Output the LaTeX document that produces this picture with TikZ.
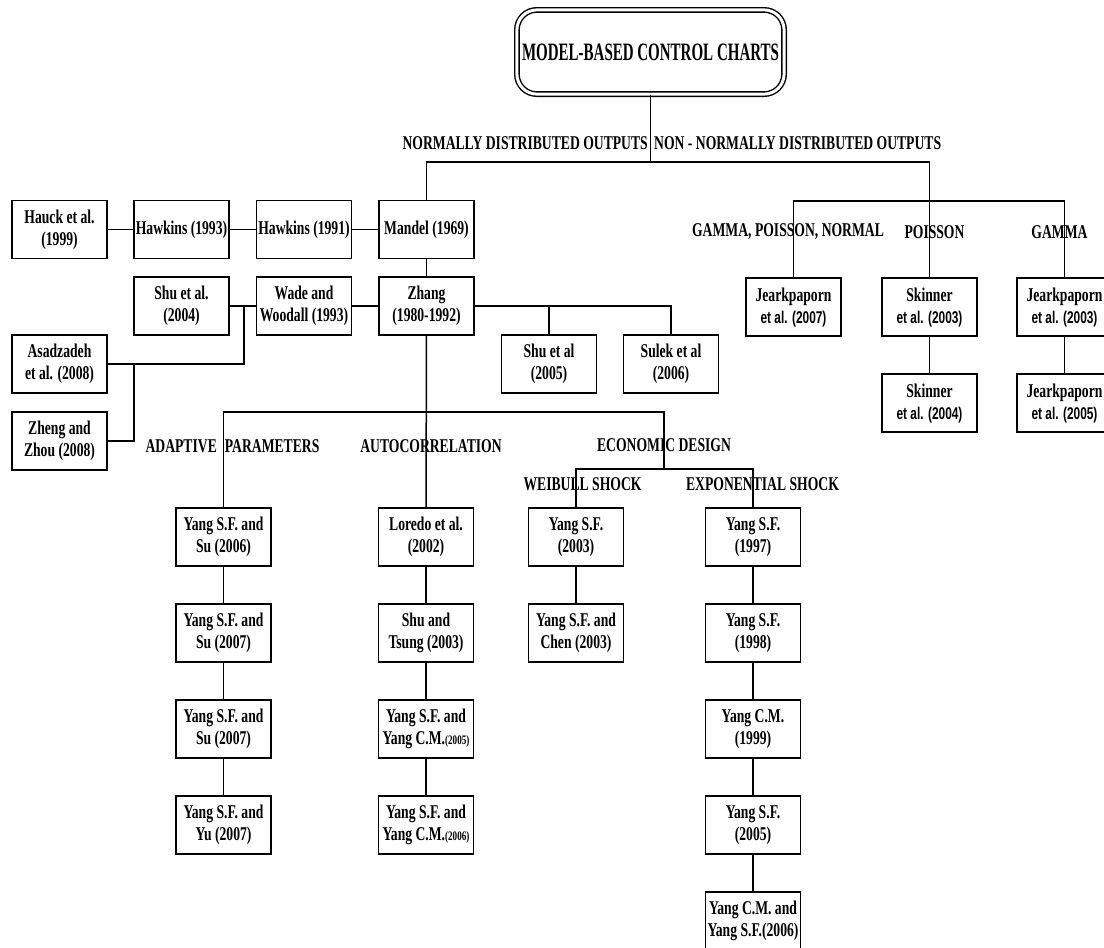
\documentclass[tikz,border=0pt]{standalone}
\usepackage{fontspec}
\newfontfamily\mfont{Liberation Serif}[FakeStretch=0.70]
\newfontfamily\tfont{Liberation Serif}[FakeStretch=0.60]
\newfontfamily\asfont{Liberation Sans}[FakeStretch=0.70]
\newcommand{\etal}[1]{{\asfont\bfseries\fontsize{17}{20}\selectfont #1}}
\newcommand{\smallyr}[1]{{\fontsize{13}{14}\selectfont #1}}
\tikzset{
  ln/.style={line width=1.5pt},
  tk/.style={line width=2.1pt},
  box/.style={draw, line width=1.5pt, minimum width=95pt, minimum height=58pt,
    inner sep=1pt, align=center, font=\mfont\bfseries\fontsize{19.5}{22}\selectfont},
  lbl/.style={inner sep=0pt, font=\mfont\bfseries\fontsize{19.5}{22}\selectfont},
  titlebox/.style={draw, double, double distance=3pt, line width=1.4pt,
    rounded corners=20pt, minimum width=267.2pt, minimum height=84.2pt,
    font=\tfont\bfseries\fontsize{25}{28}\selectfont}
}
\begin{document}
\begin{tikzpicture}[x=1pt,y=-1pt]
\useasboundingbox (0,0) rectangle (1104,948);
\clip (0,0) rectangle (1104,948);
% title
\node[titlebox] (title) at (650.5,52) {MODEL-BASED CONTROL CHARTS};
% bus coordinates
\coordinate (busA) at (0,162);
\coordinate (busB) at (0,201);
\coordinate (busC) at (0,412);
\coordinate (jw) at (244,306);
\coordinate (jz) at (134,364);
\coordinate (ecoJ) at (664,469);
% row 1
\node[box] (hauck) at (59.5,229.5) {Hauck et al.\\(1999)};
\node[box] (hawk93) at (181.5,229.5) {Hawkins (1993)};
\node[box] (hawk91) at (304,229.5) {Hawkins (1991)};
\node[box] (mandel) at (426.5,229.5) {Mandel (1969)};
% row 2
\node[box] (shu04) at (181.5,306) {Shu et al.\\(2004)};
\node[box] (wade) at (304,306) {Wade and\\Woodall (1993)};
\node[box] (zhang) at (426.5,306) {Zhang\\(1980-1992)};
\node[box] (asad) at (59.5,364) {Asadzadeh\\et al. (2008)};
\node[box] (zheng) at (59.5,441) {Zheng and\\Zhou (2008)};
\node[box] (shu05) at (549,364) {Shu et al\\(2005)};
\node[box] (sulek) at (671,364) {Sulek et al\\(2006)};
% right side
\node[box] (j07) at (793.5,307) {Jearkpaporn\\\etal{et al. (2007)}};
\node[box] (sk03) at (929.5,307) {Skinner\\\etal{et al. (2003)}};
\node[box] (j03) at (1064.5,307) {Jearkpaporn\\\etal{et al. (2003)}};
\node[box] (sk04) at (929.5,403) {Skinner\\\etal{et al. (2004)}};
\node[box] (j05) at (1064.5,403) {Jearkpaporn\\\etal{et al. (2005)}};
% adaptive column
\node[box] (a1) at (223.5,537) {Yang S.F. and\\Su (2006)};
\node[box] (a2) at (223.5,633) {Yang S.F. and\\Su (2007)};
\node[box] (a3) at (223.5,729) {Yang S.F. and\\Su (2007)};
\node[box] (a4) at (223.5,825) {Yang S.F. and\\Yu (2007)};
% autocorrelation column
\node[box] (c1) at (426,537) {Loredo et al.\\(2002)};
\node[box] (c2) at (426,633) {Shu and\\Tsung (2003)};
\node[box] (c3) at (426,729) {Yang S.F. and\\Yang C.M.\smallyr{(2005)}};
\node[box] (c4) at (426,825) {Yang S.F. and\\Yang C.M.\smallyr{(2006)}};
% weibull column
\node[box] (w1) at (576,537) {Yang S.F.\\(2003)};
\node[box] (w2) at (576,633) {Yang S.F. and\\Chen (2003)};
% exponential column
\node[box] (e1) at (753,537) {Yang S.F.\\(1997)};
\node[box] (e2) at (753,633) {Yang S.F.\\(1998)};
\node[box] (e3) at (753,729) {Yang C.M.\\(1999)};
\node[box] (e4) at (753,825) {Yang S.F.\\(2005)};
\node[box] (e5) at (753,921) {Yang C.M. and\\Yang S.F.(2006)};
% connectors: top
\draw[ln] (title.south) -- (title.south |- busA) -| (mandel.north);
\draw[ln] (title.south |- busA) -| (sk03.north);
\draw[ln] (j07.north) -- (j07.north |- busB) -- (j03.north |- busB) -- (j03.north);
\draw[ln] (sk03) -- (sk04);
\draw[ln] (j03) -- (j05);
% left rows
\draw[ln] (hauck) -- (hawk93);
\draw[ln] (hawk93) -- (hawk91);
\draw[ln] (hawk91) -- (mandel);
\draw[ln] (mandel) -- (zhang);
\draw[ln] (wade) -- (zhang);
\draw[ln] (shu04) -- (wade);
\draw[tk] (jw) |- (asad.east);
\draw[tk] (jz) |- (zheng.east);
\draw[tk] (zhang.east) -- (shu05.north |- zhang.east);
\draw[ln] (shu05.north |- zhang.east) -- (shu05.north);
\draw[ln] (shu05.north |- zhang.east) -| (sulek.north);
% main lower bus
\draw[ln] (zhang) -- (c1);
\draw[ln] (a1.north) |- (ecoJ |- busC) -- (ecoJ);
\draw[ln] (w1.north) |- (ecoJ) -| (e1.north);
% columns
\draw[ln] (a1) -- (a2) -- (a3) -- (a4);
\draw[ln] (c1) -- (c2) -- (c3) -- (c4);
\draw[ln] (w1) -- (w2);
\draw[ln] (e1) -- (e2) -- (e3) -- (e4) -- (e5);
% labels
\node[lbl, anchor=east] (lnorm) at (648,143) {NORMALLY DISTRIBUTED OUTPUTS};
\node[lbl, anchor=west] (lnon) at (654,143) {NON - NORMALLY DISTRIBUTED OUTPUTS};
\node[lbl] (lgpn) at (788,232) {GAMMA, POISSON, NORMAL};
\node[lbl] (lpois) at (934.5,232) {POISSON};
\node[lbl] (lgam) at (1059.5,232) {GAMMA};
\node[lbl] (ladapt) at (232.5,446) {ADAPTIVE\hspace{8pt}PARAMETERS};
\node[lbl] (lauto) at (431,446) {AUTOCORRELATION};
\node[lbl] (lecon) at (664,445) {ECONOMIC DESIGN};
\node[lbl] (lweib) at (582.5,484) {WEIBULL SHOCK};
\node[lbl] (lexp) at (762.5,484) {EXPONENTIAL SHOCK};
\end{tikzpicture}
\end{document}
